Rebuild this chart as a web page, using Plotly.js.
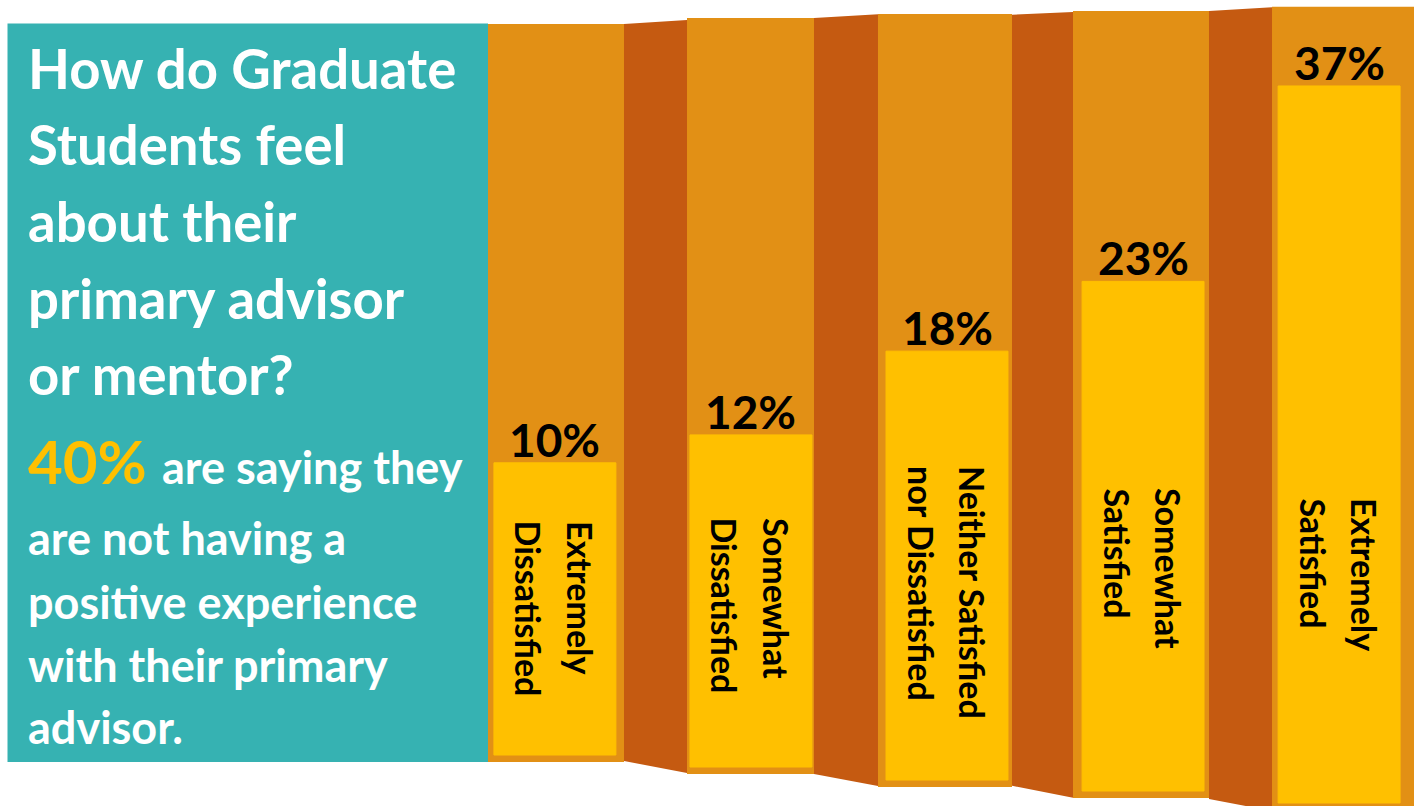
<!DOCTYPE html>
<html>
<head>
<meta charset="utf-8">
<script src="https://cdn.plot.ly/plotly-3.0.1.min.js"></script>
<style>
  html, body { margin: 0; padding: 0; background: #ffffff; }
  #chart { width: 1414px; height: 806px; }
</style>
</head>
<body>
<div id="chart"></div>
<script>
// ---------------- data ----------------
const categories = [
  "Extremely Dissatisfied",
  "Somewhat Dissatisfied",
  "Neither Satisfied nor Dissatisfied",
  "Somewhat Satisfied",
  "Extremely Satisfied"
];
const categoryLabelLines = [
  ["Extremely", "Dissatisfied"],
  ["Somewhat", "Dissatisfied"],
  ["Neither Satisfied", "nor Dissatisfied"],
  ["Somewhat", "Satisfied"],
  ["Extremely", "Satisfied"]
];
const percentages = [10, 12, 18, 23, 37];
const titleLines = ["How do Graduate", "Students feel", "about their", "primary advisor", "or mentor?"];
const highlightText = "40%";
const bodyFirstLine = "are saying they";
const bodyLines = ["are not having a", "positive experience", "with their primary", "advisor."];

// ---------------- layout / styling ----------------
const W = 1414, H = 806;
const X_RANGE = [-2.8304, 4.3820];
const Y_RANGE = [-14.588, 43.160];
const FONT = "Lato, 'Open Sans', sans-serif";
const TEAL = "#36B2B2", LIGHT = "#E29015", DARK = "#C55A11", GOLD = "#FFC000";

const xp = px => px / W;
const yp = py => 1 - py / H;
const py2y = py => Y_RANGE[1] - py / H * (Y_RANGE[1] - Y_RANGE[0]);

// accordion panels (decorative background, pixel geometry)
const lightPanels = [
  [488, 624, 24, 762],
  [687, 814, 18, 774],
  [878, 1012, 14, 787],
  [1073, 1209, 11, 798],
  [1272, 1414, 6.7, 812]
];
const darkPanels = [
  [[624, 24], [687, 20], [687, 773], [624, 761]],
  [[814, 18], [878, 14.3], [878, 786], [814, 774]],
  [[1012, 14.7], [1073, 12], [1073, 797.7], [1012, 785.7]],
  [[1209, 11], [1272, 7.3], [1272, 811], [1209, 799]]
];
const barInset = 7;
const labelTopPx = [520, 517, 465, 487, 497];

const shapes = [];
shapes.push({type: "rect", xref: "paper", yref: "paper", x0: xp(7.5), x1: xp(488), y0: yp(762), y1: yp(23.5),
  fillcolor: TEAL, line: {width: 0}, layer: "below"});
lightPanels.forEach(p => shapes.push({type: "rect", xref: "paper", yref: "paper",
  x0: xp(p[0]), x1: xp(p[1]), y0: yp(p[3]), y1: yp(p[2]), fillcolor: LIGHT, line: {width: 0}, layer: "below"}));
darkPanels.forEach(pts => {
  const d = "M" + pts.map(q => xp(q[0]).toFixed(5) + "," + yp(q[1]).toFixed(5)).join(" L") + " Z";
  shapes.push({type: "path", xref: "paper", yref: "paper", path: d, fillcolor: DARK, line: {width: 0}, layer: "below"});
});

// stems: bars continue below zero down to the panel bottoms (perspective decoration)
const stemDepth = lightPanels.map(p => py2y(Math.min(p[3], H + 4) - barInset));

const traces = [
  {type: "bar", x: categories, y: percentages, marker: {color: GOLD, line: {color: GOLD, width: 1}},
   hoverinfo: "skip", showlegend: false},
  {type: "bar", x: categories, y: stemDepth, marker: {color: GOLD, line: {color: GOLD, width: 1}},
   hoverinfo: "skip", showlegend: false}
];

const annotations = [];
function textLine(text, xpx, baselinePx, size, color) {
  annotations.push({text: text, xref: "paper", yref: "paper", x: xp(xpx), y: yp(baselinePx + 0.213 * size),
    xanchor: "left", yanchor: "bottom", showarrow: false, borderpad: 0,
    font: {family: FONT, size: size, color: color, weight: 700}});
}
const titleBaselines = [90, 166.7, 243.3, 320, 396.7];
titleLines.forEach((t, i) => textLine(t, 27, titleBaselines[i], 54.5, "#ffffff"));
textLine(highlightText, 27, 485.7, 60, GOLD);
textLine(bodyFirstLine, 161, 485.7, 45, "#ffffff");
const bodyBaselines = [556.7, 620, 683, 745];
bodyLines.forEach((t, i) => textLine(t, 27, bodyBaselines[i], 45, "#ffffff"));

percentages.forEach((v, i) => {
  annotations.push({text: v + "%", x: i, y: v, xref: "x", yref: "y", xanchor: "center", yanchor: "bottom",
    yshift: -5, showarrow: false, borderpad: 0,
    font: {family: FONT, size: 46, color: "#000000", weight: 700}});
});

categoryLabelLines.forEach((lines, i) => {
  lines.forEach((t, k) => {
    annotations.push({text: t, x: i + (k === 0 ? 0.13 : -0.13), xref: "x", yref: "paper", y: yp(labelTopPx[i]),
      xanchor: "center", yanchor: "top", textangle: 90, showarrow: false, borderpad: 0,
      font: {family: FONT, size: 34, color: "#000000", weight: 700}});
  });
});

const layout = {
  width: W, height: H,
  margin: {l: 0, r: 0, t: 0, b: 0, pad: 0},
  paper_bgcolor: "#ffffff", plot_bgcolor: "rgba(0,0,0,0)",
  barmode: "relative", bargap: 0.378,
  showlegend: false,
  xaxis: {type: "category", range: X_RANGE, visible: false, fixedrange: true},
  yaxis: {range: Y_RANGE, visible: false, fixedrange: true},
  shapes: shapes,
  annotations: annotations
};

Plotly.newPlot("chart", traces, layout, {staticPlot: true, displayModeBar: false});
</script>
</body>
</html>
